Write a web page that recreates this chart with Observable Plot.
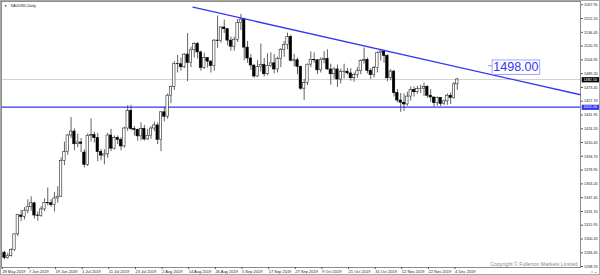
<!DOCTYPE html>
<html>
<head>
<meta charset="utf-8">
<script src="https://cdn.jsdelivr.net/npm/d3@7"></script>
<script src="https://cdn.jsdelivr.net/npm/@observablehq/plot@0.6"></script>
<style>
  html, body { margin: 0; padding: 0; background: #fff; }
  svg { display: block; outline: 1px solid #a8a8a8; outline-offset: -1px; }
</style>
</head>
<body>
<script>
// ---- Data: XAUUSD daily, 28 May 2019 – 4 Dec 2019 (bar index 0..136) ----
const opens = [1284.5,1278.5,1280.5,1287.5,1305.5,1327,1325.5,1332.5,1336.5,1341,
 1327,1326.5,1334,1341.5,1341,1339,1346.5,1348.5,1389.5,1399.5,
 1418.5,1423,1408.5,1410.5,1399,1385,1418,1419,1415.5,1399.5,
 1395.5,1397,1418.5,1403.5,1415.5,1413.5,1406,1426.5,1446.5,1426,
 1425,1417.5,1426,1414,1418,1426.5,1430,1413.5,1445,1440,
 1464,1474,1500,1500,1496.5,1511,1501.5,1516,1523,1513.5,
 1495.5,1507,1503,1498,1527,1526.5,1542,1540,1527,1520,
 1528,1547,1551,1519,1506.5,1498.5,1486,1497,1499,1488.5,
 1498,1501,1494,1506,1516.5,1522,1531,1504,1504.5,1497,
 1472,1478.5,1499.5,1505,1504.5,1493,1505,1506,1494,1488.5,
 1494,1482.5,1491,1491.5,1489.5,1484,1487.5,1492,1503.5,1505,
 1492.5,1487.5,1495.5,1513,1514.5,1509.5,1484,1491.5,1467,1458.5,
 1456,1454,1463,1470.5,1468,1471.5,1472,1474,1464,1462,
 1455.5,1461.5,1454.5,1457.5,1464,1461.5,1477];
const highs = [1286,1284,1289,1306,1328,1333,1336,1345,1348.5,1342,
 1331,1337,1346,1358.5,1345,1353.5,1360,1393,1411,1420,
 1439,1426,1420,1415,1402,1420.5,1437.5,1422.5,1421,1402.5,
 1402,1421,1425.5,1418,1418,1416,1428,1452.5,1453,1429,
 1426,1433,1430,1425.5,1428.5,1434,1433,1446,1451,1466,
 1475,1503,1510,1507,1512,1535,1519.5,1524.5,1525,1515,
 1512.5,1507.5,1504,1528,1555,1543,1550.5,1541,1531,1531,
 1551,1557,1552.5,1526,1511,1499,1504,1523,1506.5,1512,
 1513,1511,1508,1518,1526,1535.5,1533,1511.5,1507,1498,
 1482.5,1500,1514,1513,1505,1507.5,1514.5,1516.5,1500,1496,
 1499,1494.5,1500,1495,1495,1490,1496,1505,1518.5,1507,
 1495,1497.5,1514,1517,1516,1511,1494,1493,1471,1466.5,
 1466,1468,1474,1474,1475,1476,1478.5,1475.5,1471,1462,
 1462.5,1462,1459,1466,1467,1479,1484];
const lows = [1276.5,1277,1279.5,1286,1303,1320,1322,1329,1332,1323,
 1320.5,1325,1331.5,1338,1336.5,1331,1341,1348,1384,1396,
 1415,1401,1404.5,1399,1381.5,1383,1411,1410,1388.5,1389.5,
 1385,1392.5,1400,1402,1408,1401,1404,1423,1424,1418,
 1412,1412.5,1412,1413,1414,1423,1408,1400,1434,1437,
 1455,1470,1490,1492,1495,1480,1496,1507,1506,1492,
 1494,1495.5,1490,1492,1518,1524,1535,1521,1515,1515,
 1525,1538.5,1504,1501,1493,1484,1485,1491,1485.5,1487,
 1496,1489,1490,1496,1508,1516.5,1502.5,1497,1488,1470,
 1458.5,1475.5,1496,1501,1488,1490,1500.5,1493,1476,1483,
 1473.5,1477.5,1483,1487.5,1480.5,1479.5,1484,1488,1500,1489,
 1482.5,1484,1490,1503.5,1501,1480,1481,1462.5,1456,1445,
 1446,1452,1458,1462.5,1465.5,1466.5,1463,1461,1456.5,1451,
 1452,1451.5,1453,1453,1454,1460,1470];
const closes = [1278.5,1280.5,1287.5,1305.5,1327.5,1325.5,1332.5,1336.5,1341,1327,
 1326.5,1334,1341.5,1341,1339,1346.5,1348.5,1389.5,1399.5,1418.5,
 1423,1408.5,1410.5,1409,1385,1418,1419,1415.5,1399.5,1395.5,
 1397,1418.5,1403.5,1415.5,1413.5,1406,1426.5,1446.5,1426,1425,
 1417.5,1426,1414,1418,1426.5,1430,1413.5,1445,1440,1464,
 1474,1500,1500.5,1496.5,1511,1501.5,1516,1523,1513.5,1495.5,
 1507,1503,1498,1527,1526.5,1542,1540,1527,1520,1528,
 1547,1551,1519,1506.5,1498.5,1486,1497,1499,1488.5,1498,
 1501,1494,1506,1516.5,1522,1531,1504,1504.5,1497,1472,
 1478.5,1499.5,1505,1504.5,1493,1505,1506,1494,1488.5,1494,
 1482.5,1491,1491.5,1489.5,1484,1487.5,1492,1503.5,1505,1492.5,
 1487.5,1495.5,1513,1514.5,1509.5,1484,1491.5,1467,1458.5,1456,
 1454,1463,1470.5,1468,1471.5,1472,1474,1464,1462,1455.5,
 1461.5,1454.5,1457.5,1464,1461.5,1477,1482.5];

// x-axis tick bars and labels
const xTickBars = [0,8,16,24,32,40,48,56,64,72,80,88,96,104,112,120,128,136];
const xTickLabels = ["28 May 2019","7 Jun 2019","19 Jun 2019","1 Jul 2019","11 Jul 2019","23 Jul 2019",
 "2 Aug 2019","14 Aug 2019","26 Aug 2019","5 Sep 2019","17 Sep 2019","27 Sep 2019",
 "9 Oct 2019","21 Oct 2019","31 Oct 2019","12 Nov 2019","22 Nov 2019","4 Dec 2019"];
// price-axis ticks
const yTicks = [1567.95,1552.20,1536.45,1520.70,1504.95,1489.20,1473.45,1457.70,1441.95,1426.20,
 1410.45,1394.70,1378.95,1363.20,1347.45,1331.70,1315.95,1300.20,1284.45,1268.70];

// annotations
const trendPoints = [{i: 56.6, v: 1565.2}, {i: 173, v: 1465.1}];
const supportLevel = 1451.0;
const levelLabel = {i: 153.6, v: 1498.00, text: "1498.00"};
const title = "XAUUSD,Daily";
const copyright = "Copyright \u00A9 Fullerton Markets Limited";

const xDomain = [-0.9, 173];
const yDomain = [1267.6, 1571.7];

const bars = opens.map((o, i) => ({i, o, h: highs[i], l: lows[i], c: closes[i]}));
const lastClose = closes[closes.length - 1];
const blue = "#3535f2";
const hw = 0.36;

const chart = Plot.plot({
  width: 600,
  height: 275,
  marginTop: 1,
  marginBottom: 8,
  marginLeft: 1,
  marginRight: 20,
  style: {fontFamily: "'Liberation Sans', Arial, sans-serif", background: "#fff"},
  x: {type: "linear", domain: xDomain, axis: null},
  y: {type: "linear", domain: yDomain, axis: null},
  marks: [
    Plot.ruleY([lastClose], {stroke: "#c6c6c6", strokeWidth: 0.8}),
    Plot.ruleY([supportLevel], {stroke: blue, strokeWidth: 1.4}),
    Plot.ruleX(bars, {x: "i", y1: "l", y2: "h", stroke: "#3a3a3a", strokeWidth: 0.8}),
    Plot.rect(bars.filter(d => d.c >= d.o), {
      x1: d => d.i - hw, x2: d => d.i + hw, y1: "o", y2: "c",
      fill: "white", stroke: "#2a2a2a", strokeWidth: 0.6
    }),
    Plot.rect(bars.filter(d => d.c < d.o), {
      x1: d => d.i - hw, x2: d => d.i + hw, y1: "c", y2: "o",
      fill: "black", stroke: "black", strokeWidth: 0.6
    }),
    Plot.line(trendPoints, {x: "i", y: "v", stroke: blue, strokeWidth: 1.3}),
    Plot.text([levelLabel], {x: "i", y: "v", text: "text", fontSize: 12.5, fill: blue, dy: 1.2,
      ariaDescription: "level-tag"}),
    Plot.frame({stroke: "#707070", strokeWidth: 0.8}),
    Plot.axisY({anchor: "right", ticks: yTicks, tickFormat: d => d.toFixed(2), tickSize: 2, tickPadding: 1.5,
      fontSize: 3.8, fill: "#222", stroke: "#555"}),
    Plot.axisX({anchor: "bottom", ticks: xTickBars, tickFormat: d => xTickLabels[xTickBars.indexOf(d)],
      tickSize: 2, tickPadding: 0.6, fontSize: 4, textAnchor: "start", dx: -2.2, fill: "#222", stroke: "#555"}),
    Plot.text([supportLevel], {x: () => xDomain[1], y: d => d, text: d => d.toFixed(2), textAnchor: "start",
      dx: 3, fontSize: 3.8, fill: "white", ariaDescription: "blue-tag"}),
    Plot.text([lastClose], {x: () => xDomain[1], y: d => d, text: d => d.toFixed(2), textAnchor: "start",
      dx: 3, fontSize: 3.8, fill: "white", ariaDescription: "black-tag"}),
    Plot.text(["\u25BC"], {frameAnchor: "top-left", dx: 2.5, dy: 2.8, fontSize: 3.2, fill: "#111"}),
    Plot.text([title], {frameAnchor: "top-left", dx: 9, dy: 2.5, fontSize: 3.8, fill: "#222"}),
    Plot.text([copyright], {frameAnchor: "bottom-right", dx: -3, dy: -2, fontSize: 5.2, fill: "#8a8a8a"})
  ]
});

document.body.append(chart);

function boxify(label, style) {
  const ns = "http://www.w3.org/2000/svg";
  chart.querySelectorAll(`g[aria-description="${label}"] text`).forEach(function (t) {
    const b = t.getBBox();
    const r = document.createElementNS(ns, "rect");
    const tr = t.getAttribute("transform");
    if (tr) r.setAttribute("transform", tr);
    r.setAttribute("x", b.x - style.padX);
    r.setAttribute("y", b.y - style.padY);
    r.setAttribute("width", style.width != null ? style.width : b.width + 2 * style.padX);
    r.setAttribute("height", b.height + 2 * style.padY);
    r.setAttribute("fill", style.fill);
    if (style.stroke) { r.setAttribute("stroke", style.stroke); r.setAttribute("stroke-width", style.strokeWidth); }
    t.parentNode.insertBefore(r, t);
    if (style.dash) {
      const l = document.createElementNS(ns, "line");
      if (tr) l.setAttribute("transform", tr);
      const my = b.y + b.height * 0.4;
      l.setAttribute("x1", b.x - style.padX - 4);
      l.setAttribute("x2", b.x - style.padX);
      l.setAttribute("y1", my); l.setAttribute("y2", my);
      l.setAttribute("stroke", style.stroke); l.setAttribute("stroke-width", 1);
      t.parentNode.insertBefore(l, t);
    }
  });
}
boxify("blue-tag", {padX: 1.8, padY: 0.6, width: 19, fill: blue});
boxify("black-tag", {padX: 1.8, padY: 0.6, width: 19, fill: "#000"});
boxify("level-tag", {padX: 1.2, padY: 0.2, fill: "white", stroke: "#8c8cff", strokeWidth: 0.8, dash: true});
</script>
</body>
</html>
